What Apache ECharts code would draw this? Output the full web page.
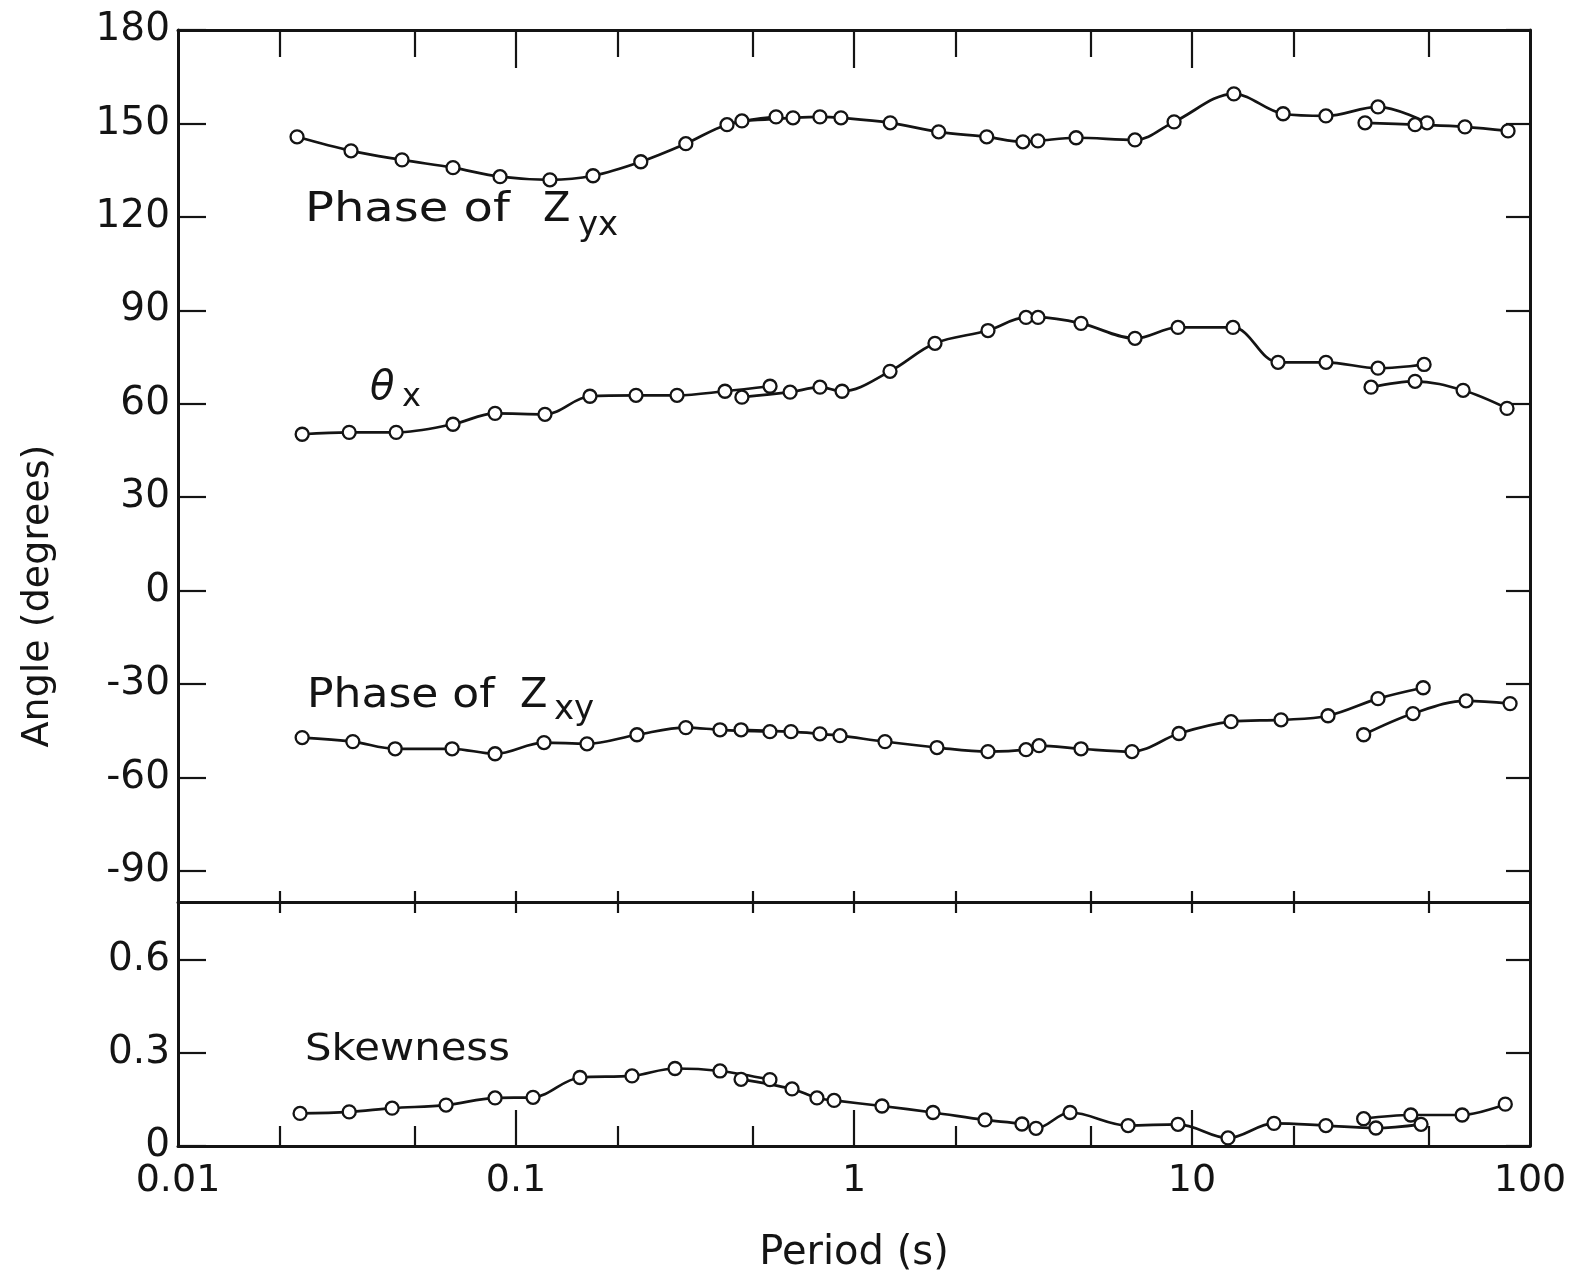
<!DOCTYPE html>
<html><head><meta charset="utf-8">
<script src="https://cdn.jsdelivr.net/npm/echarts/dist/echarts.min.js"></script>
<style>html,body{margin:0;padding:0;background:#fff}#c{width:1571px;height:1275px}</style>
</head><body><div id="c"></div>
<script>
// ---- tick definitions ----
const xTickValues = [0.01, 0.1, 1, 10, 100];
const xTickLabels = ['0.01', '0.1', '1', '10', '100'];
const xInnerDecades = [0.1, 1, 10];
const xMinorTicks = [0.02, 0.05, 0.2, 0.5, 2, 5, 20, 50];
const angleTicks = [-90, -60, -30, 0, 30, 60, 90, 120, 150, 180];
const skewTicks = [0, 0.3, 0.6];

// ---- Phase of Zyx (degrees) ----
const zyxP1 = [0.0225, 0.0325, 0.046, 0.0651, 0.0897, 0.126, 0.169, 0.234, 0.318, 0.421, 0.588];
const zyxV1 = [145.7, 141.2, 138.3, 135.8, 132.9, 131.9, 133.2, 137.7, 143.5, 149.6, 152.1];
const zyxP2 = [0.466, 0.66, 0.793, 0.915, 1.28, 1.78, 2.47, 3.16, 3.5, 4.54, 6.78, 8.85, 13.3, 18.6, 24.9, 35.5, 49.6];
const zyxV2 = [150.8, 151.8, 152.1, 151.8, 150.2, 147.3, 145.7, 144.1, 144.4, 145.4, 144.7, 150.5, 159.5, 153.1, 152.4, 155.3, 150.2];
const zyxP3 = [32.5, 45.7, 64.2, 86.1];
const zyxV3 = [150.2, 149.6, 148.9, 147.6];

// ---- theta_x (degrees) ----
const thP1 = [0.0233, 0.0321, 0.0442, 0.0651, 0.0867, 0.1218, 0.1655, 0.2265, 0.2995, 0.4152, 0.5644];
const thV1 = [50.2, 50.8, 50.8, 53.4, 56.9, 56.6, 62.4, 62.7, 62.7, 64.0, 65.6];
const thP2 = [0.466, 0.647, 0.793, 0.922, 1.278, 1.736, 2.491, 3.228, 3.503, 4.695, 6.782, 9.09, 13.22, 17.97, 24.91, 35.5, 48.6];
const thV2 = [62.1, 63.7, 65.3, 64.0, 70.4, 79.4, 83.5, 87.7, 87.7, 85.8, 81.0, 84.5, 84.5, 73.3, 73.3, 71.4, 72.6];
const thP3 = [33.86, 45.7, 63.4, 85.5];
const thV3 = [65.3, 67.2, 64.3, 58.5];

// ---- Phase of Zxy (degrees) ----
const zxyP1 = [0.0233, 0.0329, 0.0439, 0.0647, 0.0867, 0.121, 0.1622, 0.228, 0.318, 0.4014, 0.564];
const zxyV1 = [-47.2, -48.5, -50.8, -50.8, -52.4, -48.8, -49.2, -46.3, -44.0, -44.7, -45.3];
const zxyP2 = [0.4633, 0.651, 0.793, 0.909, 1.235, 1.76, 2.491, 3.228, 3.527, 4.695, 6.645, 9.15, 13.05, 18.34, 25.26, 35.5, 48.3];
const zxyV2 = [-44.7, -45.3, -46.0, -46.6, -48.5, -50.4, -51.7, -51.1, -49.8, -50.8, -51.7, -45.9, -42.1, -41.5, -40.2, -34.7, -31.2];
const zxyP3 = [32.2, 45.06, 64.7, 87.3];
const zxyV3 = [-46.3, -39.5, -35.4, -36.3];

// ---- Skewness ----
const skP1 = [0.02297, 0.0321, 0.043, 0.0621, 0.0867, 0.1123, 0.1546, 0.2204, 0.2954, 0.4014, 0.564];
const skV1 = [0.105, 0.11, 0.122, 0.132, 0.155, 0.157, 0.221, 0.226, 0.25, 0.242, 0.214];
const skP2 = [0.4633, 0.6557, 0.777, 0.873, 1.21, 1.713, 2.441, 3.14, 3.455, 4.357, 6.47, 9.09, 12.78, 17.48, 24.9, 35.0, 47.6];
const skV2 = [0.215, 0.184, 0.155, 0.147, 0.129, 0.108, 0.084, 0.071, 0.057, 0.108, 0.066, 0.07, 0.026, 0.073, 0.066, 0.058, 0.07];
const skP3 = [32.2, 44.4, 63.0, 84.5];
const skV3 = [0.088, 0.1, 0.1, 0.135];

const INK = '#141414';
const FONT = 'DejaVu Sans';

function mkSeries(name, P, V, xi, yi) {
  return {
    type: 'line', name: name, xAxisIndex: xi, yAxisIndex: yi,
    data: P.map((p, i) => [p, V[i]]),
    smooth: 0.35, symbol: 'circle', symbolSize: 13,
    lineStyle: { color: INK, width: 2.7 },
    itemStyle: { color: '#fff', borderColor: INK, borderWidth: 2.3 },
    emphasis: { disabled: true }, animation: false
  };
}

function xAx(grid, pos, opts) {
  return Object.assign({
    type: 'log', logBase: 10, min: 0.01, max: 100, gridIndex: grid, position: pos,
    axisLine: { show: false, onZero: false },
    axisTick: { show: false },
    axisLabel: { show: false },
    splitLine: { show: false }
  }, opts);
}
const lineStyleAx = { color: INK, width: 3 };
const tickStyle = { color: INK, width: 2.2 };

const chart = echarts.init(document.getElementById('c'), null, { renderer: 'canvas' });
chart.setOption({
  backgroundColor: '#fff',
  animation: false,
  grid: [
    { left: 178, top: 30, width: 1352, height: 872 },
    { left: 178, top: 902, width: 1352, height: 244 }
  ],
  xAxis: [
    xAx(0, 'top', { axisLine: { show: true, onZero: false, lineStyle: lineStyleAx },
      axisTick: { show: true, inside: true, length: 38, customValues: xInnerDecades, lineStyle: tickStyle } }),
    xAx(0, 'top', { axisTick: { show: true, inside: true, length: 27, customValues: xMinorTicks, lineStyle: tickStyle } }),
    xAx(0, 'bottom', { axisLine: { show: true, onZero: false, lineStyle: lineStyleAx },
      axisTick: { show: true, inside: true, length: 11, customValues: xMinorTicks.concat(xInnerDecades), lineStyle: tickStyle } }),
    xAx(1, 'top', { axisTick: { show: true, inside: true, length: 11, customValues: xMinorTicks.concat(xInnerDecades), lineStyle: tickStyle } }),
    xAx(1, 'bottom', { axisLine: { show: true, onZero: false, lineStyle: lineStyleAx },
      axisTick: { show: true, inside: true, length: 36, customValues: xInnerDecades, lineStyle: tickStyle },
      axisLabel: { show: true, customValues: xTickValues, margin: 16, fontSize: 38, fontFamily: FONT, color: INK,
        formatter: v => { const k = xTickValues.findIndex(t => Math.abs(Math.log10(t) - Math.log10(v)) < 1e-6); return k >= 0 ? xTickLabels[k] : ''; } },
      name: 'Period (s)', nameLocation: 'middle', nameGap: 88,
      nameTextStyle: { fontSize: 40, fontFamily: FONT, color: INK } }),
    xAx(1, 'bottom', { axisTick: { show: true, inside: true, length: 20, customValues: xMinorTicks, lineStyle: tickStyle } })
  ],
  yAxis: [
    { type: 'value', gridIndex: 0, position: 'left', min: -100, max: 180,
      axisLine: { show: true, onZero: false, lineStyle: lineStyleAx },
      axisTick: { show: true, inside: true, length: 28, customValues: angleTicks, lineStyle: tickStyle },
      axisLabel: { show: true, customValues: angleTicks, margin: 8, fontSize: 39, fontFamily: FONT, color: INK },
      splitLine: { show: false } },
    { type: 'value', gridIndex: 0, position: 'right', min: -100, max: 180,
      axisLine: { show: true, onZero: false, lineStyle: lineStyleAx },
      axisTick: { show: true, inside: true, length: 24, customValues: angleTicks, lineStyle: tickStyle },
      axisLabel: { show: false }, splitLine: { show: false } },
    { type: 'value', gridIndex: 1, position: 'left', min: 0, max: 0.787,
      axisLine: { show: true, onZero: false, lineStyle: lineStyleAx },
      axisTick: { show: true, inside: true, length: 28, customValues: skewTicks, lineStyle: tickStyle },
      axisLabel: { show: true, customValues: skewTicks, margin: 8, fontSize: 39, fontFamily: FONT, color: INK,
        formatter: v => (v === 0 ? '0' : v.toFixed(1)) },
      splitLine: { show: false } },
    { type: 'value', gridIndex: 1, position: 'right', min: 0, max: 0.787,
      axisLine: { show: true, onZero: false, lineStyle: lineStyleAx },
      axisTick: { show: true, inside: true, length: 24, customValues: skewTicks, lineStyle: tickStyle },
      axisLabel: { show: false }, splitLine: { show: false } }
  ],
  series: [
    mkSeries('Phase of Zyx (1)', zyxP1, zyxV1, 0, 0),
    mkSeries('Phase of Zyx (2)', zyxP2, zyxV2, 0, 0),
    mkSeries('Phase of Zyx (3)', zyxP3, zyxV3, 0, 0),
    mkSeries('theta x (1)', thP1, thV1, 0, 0),
    mkSeries('theta x (2)', thP2, thV2, 0, 0),
    mkSeries('theta x (3)', thP3, thV3, 0, 0),
    mkSeries('Phase of Zxy (1)', zxyP1, zxyV1, 0, 0),
    mkSeries('Phase of Zxy (2)', zxyP2, zxyV2, 0, 0),
    mkSeries('Phase of Zxy (3)', zxyP3, zxyV3, 0, 0),
    mkSeries('Skewness (1)', skP1, skV1, 4, 2),
    mkSeries('Skewness (2)', skP2, skV2, 4, 2),
    mkSeries('Skewness (3)', skP3, skV3, 4, 2)
  ],
  graphic: [
    { type: 'text', x: 38, y: 596, rotation: Math.PI / 2,
      style: { text: 'Angle (degrees)', fontSize: 38, fontFamily: FONT, fill: INK, align: 'center', verticalAlign: 'middle' } },
    { type: 'text', x: 305, y: 211, scaleX: 1.2,
      style: { text: 'Phase of', fontSize: 40, fontFamily: FONT, fill: INK, align: 'left', verticalAlign: 'middle' } },
    { type: 'text', x: 543, y: 211,
      style: { text: 'Z', fontSize: 40, fontFamily: FONT, fill: INK, align: 'left', verticalAlign: 'middle' } },
    { type: 'text', x: 578, y: 226,
      style: { text: 'yx', fontSize: 34, fontFamily: FONT, fill: INK, align: 'left', verticalAlign: 'middle' } },
    { type: 'text', x: 370, y: 389,
      style: { text: 'θ', fontSize: 40, fontStyle: 'italic', fontFamily: FONT, fill: INK, align: 'left', verticalAlign: 'middle' } },
    { type: 'text', x: 402, y: 398,
      style: { text: 'x', fontSize: 32, fontFamily: FONT, fill: INK, align: 'left', verticalAlign: 'middle' } },
    { type: 'text', x: 307, y: 697, scaleX: 1.1,
      style: { text: 'Phase of', fontSize: 40, fontFamily: FONT, fill: INK, align: 'left', verticalAlign: 'middle' } },
    { type: 'text', x: 520, y: 697,
      style: { text: 'Z', fontSize: 40, fontFamily: FONT, fill: INK, align: 'left', verticalAlign: 'middle' } },
    { type: 'text', x: 554, y: 710,
      style: { text: 'xy', fontSize: 34, fontFamily: FONT, fill: INK, align: 'left', verticalAlign: 'middle' } },
    { type: 'text', x: 305, y: 1050, scaleX: 1.1,
      style: { text: 'Skewness', fontSize: 38, fontFamily: FONT, fill: INK, align: 'left', verticalAlign: 'middle' } }
  ]
});
</script>
</body></html>
